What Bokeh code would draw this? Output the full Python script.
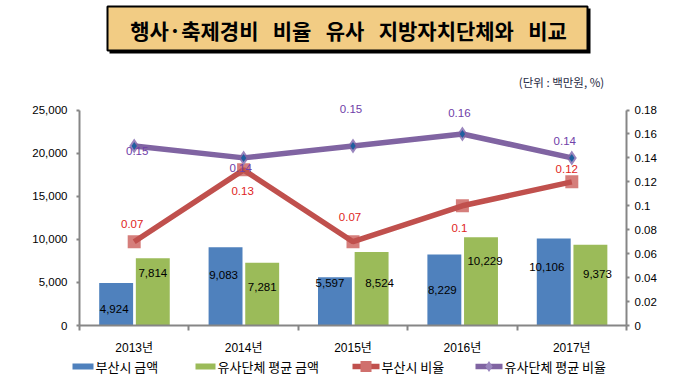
from bokeh.plotting import figure
from bokeh.layouts import column
from bokeh.models import (Range1d, LinearAxis, FixedTicker, NumeralTickFormatter,
                          CustomJSTickFormatter, ColumnDataSource)
from bokeh.core.properties import value
from bokeh.embed import file_html
from bokeh.resources import INLINE

# ---- data ----
years = ["2013년", "2014년", "2015년", "2016년", "2017년"]
busan_amount = [4924, 9083, 5597, 8229, 10106]
peer_amount = [7814, 7281, 8524, 10229, 9373]
busan_ratio = [0.07, 0.13, 0.07, 0.10, 0.12]
peer_ratio = [0.15, 0.14, 0.15, 0.16, 0.14]
busan_amount_labels = ["4,924", "9,083", "5,597", "8,229", "10,106"]
peer_amount_labels = ["7,814", "7,281", "8,524", "10,229", "9,373"]
busan_ratio_labels = ["0.07", "0.13", "0.07", "0.1", "0.12"]
peer_ratio_labels = ["0.15", "0.14", "0.15", "0.16", "0.14"]
left_ticks = [0, 5000, 10000, 15000, 20000, 25000]
right_ticks = [0, 0.02, 0.04, 0.06, 0.08, 0.1, 0.12, 0.14, 0.16, 0.18]
left_max = 25000
right_max = 0.18
series_names = ["부산시 금액", "유사단체 평균 금액", "부산시 비율", "유사단체 평균 비율"]

SP = "\u00a0\u00a0\u00a0"
title_text = SP.join(["행사·축제경비", "비율", "유사", "지방자치단체와", "비교"])
unit_text = "(단위 : 백만원, %)"

# ---- styles ----
BLUE = "#4F81BD"
GREEN = "#9BBB59"
RED = "#C0504D"
PURPLE = "#8064A2"
RED_MK = "#D0706D"
PURPLE_MK = "#9A86BE"
AXIS = "#868686"
NUM_FONT = "Liberation Sans, Noto Sans CJK KR"
KR_FONT = "Noto Sans CJK KR"
W = 677


def no_align(f):
    try:
        f.frame_align = False
    except Exception:
        pass
    return f


def bare_fig(h):
    f = figure(width=W, height=h, output_backend="svg", toolbar_location=None,
               x_range=Range1d(0, W), y_range=Range1d(0, h),
               x_axis_location=None, y_axis_location=None,
               min_border=0, min_border_left=0, min_border_right=0,
               min_border_top=0, min_border_bottom=0)
    f.grid.visible = False
    f.outline_line_color = None
    return no_align(f)


# ================= title figure =================
TH = 90
tf = bare_fig(TH)
tf.quad(left=[109], right=[590], top=[TH - 8], bottom=[TH - 53], fill_color="black", line_color=None)
tf.quad(left=[107], right=[587], top=[TH - 6], bottom=[TH - 50], fill_color="#F2CC84",
        line_color="black", line_width=2)
tf.text(x=[348], y=[TH - 29], text=[title_text], text_font=value(KR_FONT), text_font_size="21px",
        text_font_style="bold", text_align="center", text_baseline="middle", text_color="black")
tf.text(x=[561], y=[TH - 81], text=[unit_text], text_font=value(KR_FONT), text_font_size="11.5px",
        text_align="center", text_baseline="middle", text_color="#1F2A44")

# ================= main figure =================
n = len(years)
xc = [i + 0.5 for i in range(n)]
FRAME_TOP, ZERO_Y, AX_TOP = 95, 325, 109.5
BOTTOM = 32
MH = ZERO_Y + BOTTOM - TH
scale_extra = (ZERO_Y - FRAME_TOP) / (ZERO_Y - AX_TOP)

p = figure(width=W, height=MH, output_backend="svg", toolbar_location=None,
           x_range=Range1d(0, n), y_range=Range1d(0, left_max * scale_extra),
           min_border_left=79, min_border_right=W - 626, min_border_top=FRAME_TOP - TH,
           min_border_bottom=BOTTOM)
no_align(p)
p.outline_line_color = None
p.xgrid.visible = False
p.ygrid.visible = False
p.extra_y_ranges = {"r": Range1d(0, right_max * scale_extra)}

# x axis
p.xaxis.ticker = FixedTicker(ticks=xc, minor_ticks=list(range(n + 1)))
p.xaxis.major_label_overrides = {x: y for x, y in zip(xc, years)}
p.xaxis.major_tick_line_color = None
p.xaxis.major_tick_out = 0
p.xaxis.major_tick_in = 0
p.xaxis.minor_tick_out = 5
p.xaxis.minor_tick_in = 0
p.xaxis.minor_tick_line_color = AXIS
p.xaxis.minor_tick_line_width = 2
p.xaxis.axis_line_color = AXIS
p.xaxis.axis_line_width = 2
p.xaxis.major_label_standoff = 10
p.xaxis.major_label_text_font = NUM_FONT
p.xaxis.major_label_text_font_size = "12px"
p.xaxis.major_label_text_color = "black"

# left axis
p.yaxis.ticker = FixedTicker(ticks=left_ticks)
p.yaxis.bounds = (0, left_max)
p.yaxis.formatter = NumeralTickFormatter(format="0,0")
p.yaxis.minor_tick_line_color = None
p.yaxis.major_tick_out = 3
p.yaxis.major_tick_in = 0
p.yaxis.major_tick_line_color = AXIS
p.yaxis.major_tick_line_width = 2
p.yaxis.axis_line_color = AXIS
p.yaxis.axis_line_width = 2
p.yaxis.major_label_standoff = 9
p.yaxis.major_label_text_font = NUM_FONT
p.yaxis.major_label_text_font_size = "11.5px"
p.yaxis.major_label_text_color = "black"

# right axis
ra = LinearAxis(y_range_name="r", ticker=FixedTicker(ticks=right_ticks), bounds=(0, right_max),
                formatter=CustomJSTickFormatter(code="return Number(tick.toFixed(2)).toString();"))
ra.minor_tick_line_color = None
ra.major_tick_out = 3
ra.major_tick_in = 0
ra.major_tick_line_color = AXIS
ra.major_tick_line_width = 2
ra.axis_line_color = AXIS
ra.axis_line_width = 2
ra.major_label_standoff = 5
ra.major_label_text_font = NUM_FONT
ra.major_label_text_font_size = "11.5px"
ra.major_label_text_color = "black"
p.add_layout(ra, "right")

# bars
bsrc = ColumnDataSource(dict(x=[x - 0.165 for x in xc], top=busan_amount, lab=busan_amount_labels,
                             dx=[-2, -2, -5, -2, -7], dy=[26, 28, 6, 35, 29]))
gsrc = ColumnDataSource(dict(x=[x + 0.17 for x in xc], top=peer_amount, lab=peer_amount_labels,
                             dx=[0, 0, 8, 4, 7], dy=[15, 24, 31, 24, 29]))
p.vbar(x="x", top="top", width=0.31, source=bsrc, fill_color=BLUE, line_color=None)
p.vbar(x="x", top="top", width=0.31, source=gsrc, fill_color=GREEN, line_color=None)
for src in (bsrc, gsrc):
    p.text(x="x", y="top", text="lab", source=src, x_offset="dx", y_offset="dy",
           text_align="center", text_baseline="middle", text_font=value(NUM_FONT),
           text_font_size="11.5px", text_color="black")

# lines
rsrc = ColumnDataSource(dict(x=xc, y=busan_ratio, lab=busan_ratio_labels,
                             dx=[-2, -1, -3, -3, -5], dy=[-18, 21, -25, 22, -13]))
psrc = ColumnDataSource(dict(x=xc, y=peer_ratio, lab=peer_ratio_labels,
                             dx=[3, -3, -2, -3, -7], dy=[5, 10, -37, -21, -17]))

p.scatter(x="x", y="y", source=rsrc, y_range_name="r", marker="square", size=13,
          fill_color=RED_MK, line_color=None, fill_alpha=0.9)
p.line(x="x", y="y", source=rsrc, y_range_name="r", line_color=RED, line_width=5.5)
p.scatter(x="x", y="y", source=psrc, y_range_name="r", marker="diamond", size=15,
          fill_color=PURPLE_MK, line_color=None)
p.line(x="x", y="y", source=psrc, y_range_name="r", line_color=PURPLE, line_width=5.5)
p.scatter(x="x", y="y", source=psrc, y_range_name="r", marker="diamond", size=8,
          fill_color="#1F5F9F", line_color=None)

p.text(x="x", y="y", text="lab", source=rsrc, y_range_name="r", x_offset="dx", y_offset="dy",
       text_align="center", text_baseline="middle", text_font=value(NUM_FONT),
       text_font_size="11.5px", text_color="#E0251C")
p.text(x="x", y="y", text="lab", source=psrc, y_range_name="r", x_offset="dx", y_offset="dy",
       text_align="center", text_baseline="middle", text_font=value(NUM_FONT),
       text_font_size="11.5px", text_color="#7040A8")

# ================= legend figure (drawn key) =================
LTOP = TH + MH
LH = 377 - LTOP
ly = LH - (366 - LTOP)     # legend row centre in legend-figure coordinates
key_left = [72, 195, 352, 475]
key_right = [93, 215, 379, 502]

lf = bare_fig(LH)
lf.quad(left=key_left[:2], right=key_right[:2], top=[ly + 3] * 2, bottom=[ly - 3] * 2,
        fill_color=[BLUE, GREEN], line_color=None)
for (l, r, lc, mc, mk) in [(key_left[2], key_right[2], RED, RED_MK, "square"),
                           (key_left[3], key_right[3], PURPLE, PURPLE_MK, "diamond")]:
    lf.line(x=[l, r], y=[ly, ly], line_color=lc, line_width=5.5)
    lf.scatter(x=[(l + r) / 2], y=[ly], marker=mk, size=11, fill_color=mc, line_color=None)
lf.text(x=[r + 2 for r in key_right], y=[ly] * 4, text=series_names,
        text_font=value(KR_FONT), text_font_size="13px", text_color="black",
        text_align="left", text_baseline="middle")

layout = column(tf, p, lf, spacing=0)
open("out.html", "w").write(file_html(layout, INLINE))
